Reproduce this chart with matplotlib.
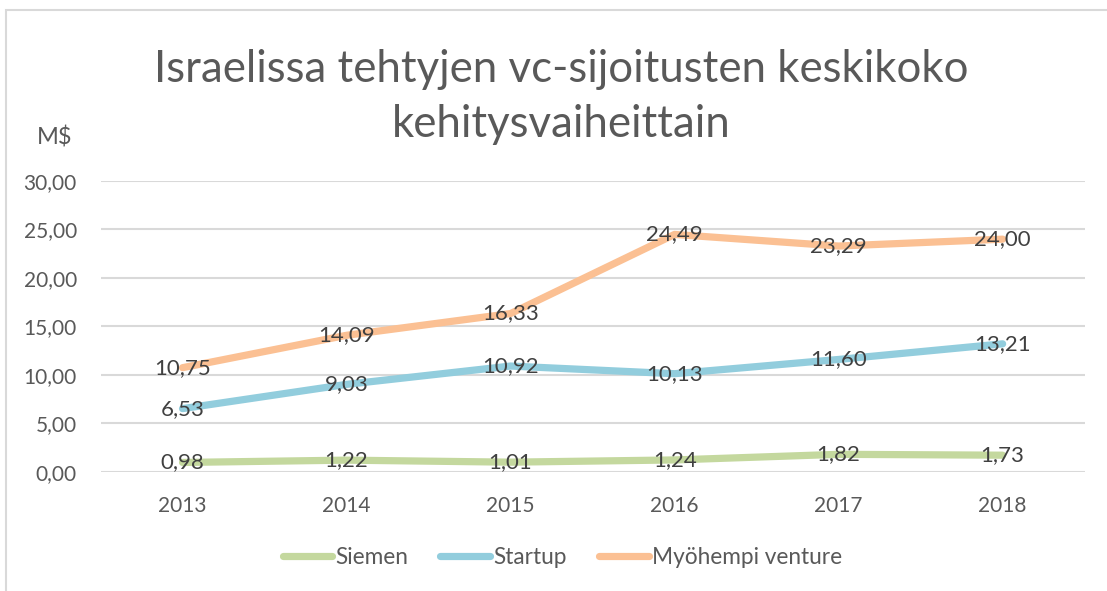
import matplotlib.pyplot as plt
from matplotlib.patches import Rectangle

years = ["2013", "2014", "2015", "2016", "2017", "2018"]
siemen = [0.98, 1.22, 1.01, 1.24, 1.82, 1.73]
startup = [6.53, 9.03, 10.92, 10.13, 11.60, 13.21]
venture = [10.75, 14.09, 16.33, 24.49, 23.29, 24.00]
yticks = [0, 5, 10, 15, 20, 25, 30]

plt.rcParams["font.family"] = ["Lato", "DejaVu Sans"]

series = [
    ("Siemen", siemen, "#C4D89E"),
    ("Startup", startup, "#92CDDD"),
    ("Myöhempi venture", venture, "#FBC093"),
]

fig = plt.figure(figsize=(11.07, 5.91), dpi=100)
ax = fig.add_axes([0.0908, 0.2014, 0.889, 0.4924])

x = range(len(years))
for name, vals, color in series:
    ax.plot(x, vals, color=color, linewidth=5.2, label=name,
            solid_capstyle="round", zorder=3)
    for xi, v in zip(x, vals):
        ax.text(xi, v, f"{v:.2f}".replace(".", ","), ha="center", va="center",
                fontsize=16, color="#404040", zorder=4)

ax.set_xlim(-0.5, len(years) - 0.5)
ax.set_ylim(0, 30)
ax.set_yticks(yticks)
ax.set_yticklabels([f"{t:.2f}".replace(".", ",") for t in yticks])
ax.set_xticks(list(x))
ax.set_xticklabels(years)
ax.tick_params(length=0, labelsize=15, colors="#595959")
ax.tick_params(axis="x", pad=17)
ax.tick_params(axis="y", pad=17)
ax.grid(axis="y", color="#D9D9D9", linewidth=1.5)
ax.set_axisbelow(True)
for s in ax.spines.values():
    s.set_visible(False)

# title, two lines placed on their baselines
fig.text(0.507, 1 - 82 / 591, "Israelissa tehtyjen vc-sijoitusten keskikoko",
         ha="center", va="baseline", fontsize=31.5, color="#595959")
fig.text(0.507, 1 - 137 / 591, "kehitysvaiheittain",
         ha="center", va="baseline", fontsize=31.5, color="#595959")
fig.text(0.049, 0.768, "M$", ha="center", va="center", fontsize=17, color="#595959")

fig.legend(loc="center", bbox_to_anchor=(0.508, 0.0575), ncol=3, frameon=False,
           fontsize=16.3, labelcolor="#595959", handlelength=2.2,
           handletextpad=0.15, columnspacing=1.4)

fig.patches.append(Rectangle((6 / 1107, -0.1), 1.2, 1 - 10 / 591 + 0.1,
                             transform=fig.transFigure, fill=False,
                             edgecolor="#D9D9D9", linewidth=1.5))

fig.savefig("out.png", dpi=100)
